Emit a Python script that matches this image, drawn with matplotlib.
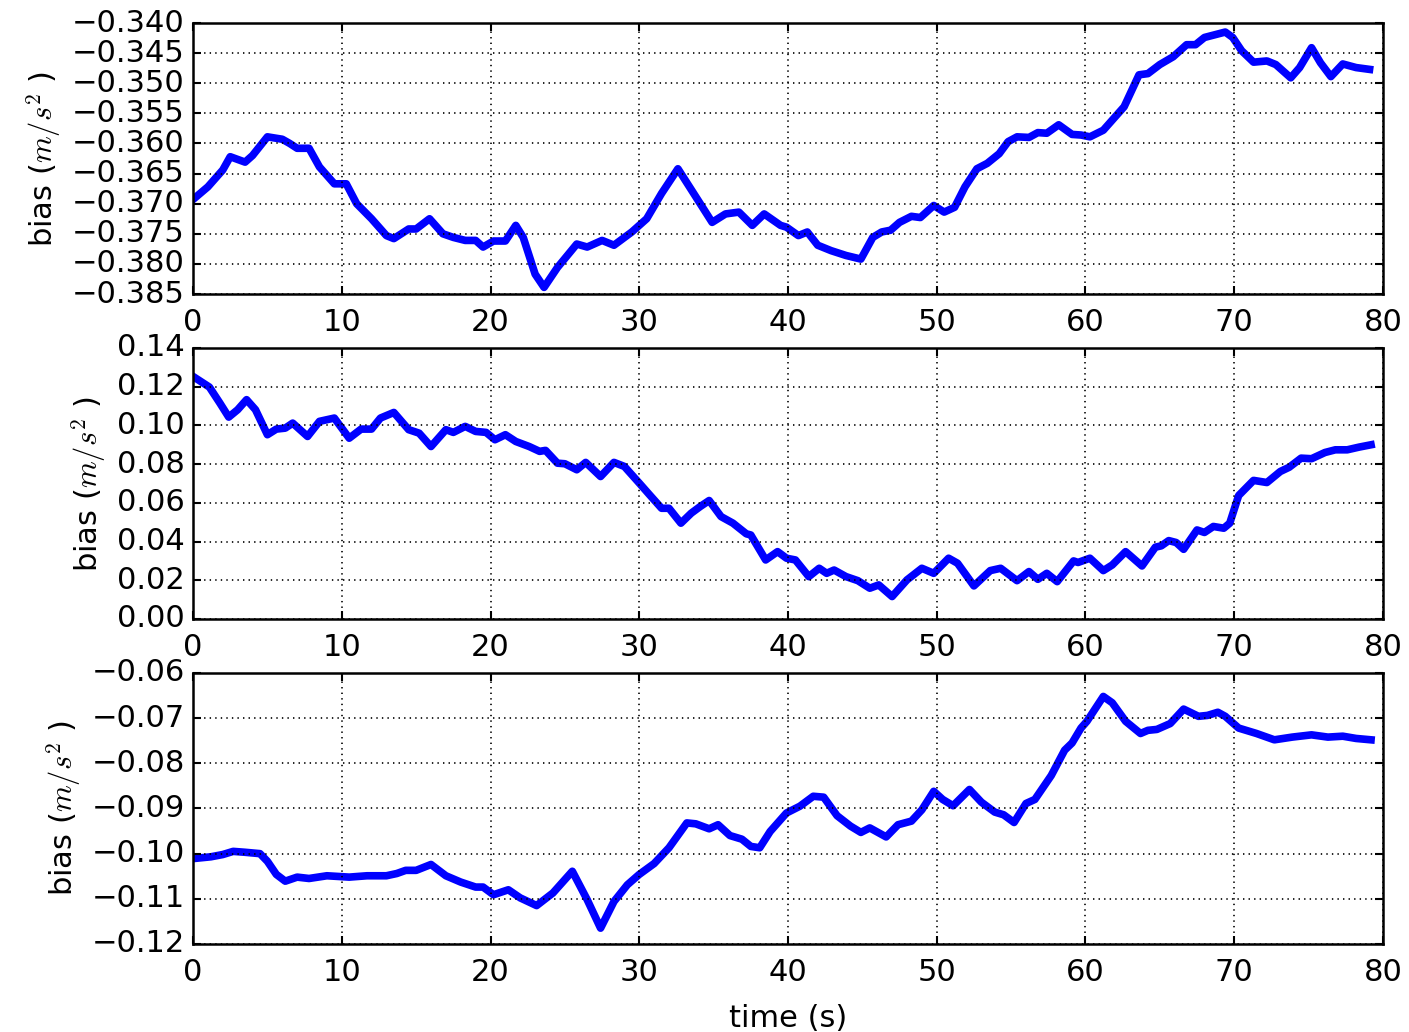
import matplotlib
matplotlib.use('Agg')
import matplotlib.pyplot as plt
from matplotlib.ticker import MultipleLocator

plt.style.use('classic')

# bias estimates
t_x = [0, 1, 2, 2.5, 3.5, 4, 5, 6, 6.5, 7, 7.8, 8.5, 9.5, 10.3, 11, 12, 13, 13.5, 14.5, 15,
       15.9, 16.8, 17.5, 18.3, 19, 19.5, 20.2, 21, 21.7, 22.2, 23, 23.6, 24.5, 25.8, 26.5, 27.5,
       28.3, 29.5, 30.5, 31.5, 32.6, 34.1, 34.9, 35.8, 36.7, 37.6, 38.4, 39.5, 39.9, 40.7, 41.3,
       42.0, 42.9, 43.9, 44.9, 45.7, 46.3, 46.9, 47.5, 48.3, 48.9, 49.8, 50.5, 51.2, 51.9, 52.7,
       53.4, 54.2, 54.8, 55.4, 56.2, 56.8, 57.4, 58.2, 59.1, 59.7, 60.3, 61.2, 62.6, 63.6, 64.2,
       65.0, 65.9, 66.8, 67.4, 68.0, 69.4, 69.9, 70.5, 71.3, 72.2, 72.8, 73.8, 74.4, 75.2, 75.8,
       76.5, 77.3, 78.2, 79.1]
bias_x = [-0.3693, -0.3672, -0.3644, -0.3622, -0.3631, -0.3620, -0.3589, -0.3593, -0.3600,
          -0.3608, -0.3608, -0.3639, -0.3667, -0.3667, -0.3700, -0.3725, -0.3753, -0.3758,
          -0.3742, -0.3742, -0.3725, -0.3750, -0.3756, -0.3761, -0.3761, -0.3772, -0.3762,
          -0.3762, -0.3736, -0.3756, -0.3817, -0.3839, -0.3806, -0.3767, -0.3772, -0.3761,
          -0.3769, -0.3747, -0.3725, -0.3683, -0.3642, -0.3700, -0.3731, -0.3717, -0.3714,
          -0.3736, -0.3717, -0.3736, -0.3739, -0.3753, -0.3747, -0.3769, -0.3778, -0.3786,
          -0.3792, -0.3756, -0.3747, -0.3744, -0.3731, -0.3721, -0.3723, -0.3703, -0.3714,
          -0.3706, -0.3672, -0.3642, -0.3633, -0.3617, -0.3597, -0.3589, -0.3590, -0.3582,
          -0.3583, -0.3569, -0.3585, -0.3586, -0.3589, -0.3578, -0.3539, -0.3486, -0.3484,
          -0.3469, -0.3456, -0.3436, -0.3436, -0.3424, -0.3415, -0.3424, -0.3446, -0.3465,
          -0.3463, -0.3469, -0.3491, -0.3474, -0.3441, -0.3466, -0.3489, -0.3468, -0.3474,
          -0.3477]

t_y = [0, 0.5, 1.1, 1.8, 2.4, 3.0, 3.6, 4.2, 5.0, 5.6, 6.2, 6.7, 7.7, 8.5, 9.5, 10.5, 11.3,
       12, 12.6, 13.5, 14.5, 15.2, 16.0, 17.0, 17.5, 18.3, 19, 19.7, 20.3, 21.0, 21.7, 22.6,
       23.3, 23.7, 24.5, 25.0, 25.8, 26.4, 27.4, 28.3, 29.0, 30.0, 30.7, 31.5, 32.0, 32.8, 33.5,
       34.1, 34.7, 35.5, 36.3, 37.2, 37.5, 38.5, 39.3, 39.9, 40.5, 41.4, 42.1, 42.6, 43.1, 43.9,
       44.7, 45.5, 46.1, 47.0, 48.0, 49.0, 49.8, 50.8, 51.4, 52.5, 53.6, 54.3, 55.4, 56.2, 56.8,
       57.4, 58.1, 59.2, 59.5, 60.3, 61.2, 61.8, 62.7, 63.8, 64.7, 65.1, 65.6, 66.1, 66.6, 67.5,
       68.0, 68.6, 69.3, 69.7, 70.3, 71.3, 72.2, 73.1, 73.7, 74.5, 75.2, 76.1, 76.8, 77.6, 78.4,
       79.2]
bias_y = [0.1253, 0.1228, 0.1198, 0.1116, 0.1043, 0.1081, 0.1133, 0.1081, 0.0952, 0.0981,
          0.0986, 0.1012, 0.0943, 0.1021, 0.1038, 0.0934, 0.0981, 0.0981, 0.1038, 0.1067,
          0.0978, 0.0960, 0.0891, 0.0978, 0.0964, 0.0995, 0.0969, 0.0964, 0.0926, 0.0952,
          0.0917, 0.0891, 0.0866, 0.0871, 0.0805, 0.0802, 0.0771, 0.0809, 0.0736, 0.0809,
          0.0788, 0.0702, 0.0641, 0.0572, 0.0572, 0.0495, 0.0547, 0.0581, 0.0612, 0.0529,
          0.0495, 0.0440, 0.0434, 0.0305, 0.0348, 0.0314, 0.0305, 0.0219, 0.0262, 0.0236,
          0.0253, 0.0219, 0.0198, 0.0159, 0.0176, 0.0116, 0.0202, 0.0262, 0.0236, 0.0314,
          0.0288, 0.0171, 0.0250, 0.0262, 0.0198, 0.0245, 0.0205, 0.0236, 0.0193, 0.0300,
          0.0292, 0.0314, 0.0250, 0.0279, 0.0348, 0.0274, 0.0371, 0.0378, 0.0405, 0.0395,
          0.0360, 0.0460, 0.0447, 0.0478, 0.0469, 0.0495, 0.0638, 0.0716, 0.0705, 0.0762,
          0.0784, 0.0831, 0.0828, 0.0860, 0.0874, 0.0874, 0.0888, 0.0900]

t_z = [0, 1.2, 2, 2.7, 3.5, 4.5, 5.0, 5.6, 6.2, 7.0, 7.8, 9, 10.5, 11.7, 13, 13.7, 14.3, 15,
       16, 17, 18, 19, 19.5, 20.2, 21.2, 22, 23.1, 24.2, 25.5, 26.5, 27.4, 28.3, 29.2, 30, 31,
       32, 33.2, 33.8, 34.7, 35.3, 36.1, 36.9, 37.5, 38.1, 38.8, 39.9, 40.8, 41.7, 42.4, 43.3,
       44.2, 44.9, 45.5, 46.6, 47.4, 48.3, 49.0, 49.8, 50.4, 51.1, 52.2, 53.0, 53.9, 54.5, 55.2,
       56.0, 56.6, 57.7, 58.6, 59.1, 59.7, 60.1, 61.2, 61.8, 62.7, 63.7, 64.2, 64.8, 65.7, 66.6,
       67.6, 68.2, 68.9, 69.4, 70.3, 71.5, 72.7, 73.9, 75.2, 76.3, 77.3, 78.2, 79.2]
bias_z = [-0.1011, -0.1007, -0.1002, -0.0995, -0.0997, -0.1000, -0.1017, -0.1046, -0.1061,
          -0.1052, -0.1055, -0.1049, -0.1052, -0.1049, -0.1049, -0.1044, -0.1037, -0.1037,
          -0.1024, -0.1049, -0.1063, -0.1074, -0.1074, -0.1091, -0.1080, -0.1098, -0.1115,
          -0.1087, -0.1039, -0.1102, -0.1165, -0.1106, -0.1069, -0.1046, -0.1022, -0.0987,
          -0.0932, -0.0934, -0.0945, -0.0936, -0.0960, -0.0968, -0.0984, -0.0987, -0.0951,
          -0.0910, -0.0895, -0.0873, -0.0875, -0.0916, -0.0939, -0.0953, -0.0943, -0.0963,
          -0.0936, -0.0928, -0.0903, -0.0862, -0.0880, -0.0894, -0.0858, -0.0886, -0.0908,
          -0.0914, -0.0931, -0.0889, -0.0880, -0.0827, -0.0771, -0.0755, -0.0722, -0.0707,
          -0.0652, -0.0666, -0.0707, -0.0734, -0.0727, -0.0725, -0.0712, -0.0680, -0.0696,
          -0.0694, -0.0687, -0.0696, -0.0722, -0.0734, -0.0748, -0.0742, -0.0737, -0.0742,
          -0.0740, -0.0745, -0.0748]

# (time, bias, y limits, y tick step)
series = [(t_x, bias_x, (-0.385, -0.340), 0.005),
          (t_y, bias_y, (0.0, 0.14), 0.02),
          (t_z, bias_z, (-0.12, -0.06), 0.01)]

fig = plt.figure(figsize=(14.09, 10.32), dpi=100, facecolor='white')
fsize = 22

tops = [0.9777, 0.6628, 0.3479]
for i, (t, b, lims, step) in enumerate(series):
    ax = fig.add_axes([0.137, tops[i] - 0.2626, 0.8445, 0.2626])
    ax.plot(t, b, color='b', linewidth=5.5, solid_joinstyle='round')
    ax.set_xlim(0, 80)
    ax.set_ylim(*lims)
    ax.yaxis.set_major_locator(MultipleLocator(step))
    ax.xaxis.set_major_locator(MultipleLocator(10))
    ax.grid(True, color='k', linestyle=':', linewidth=1.2)
    ax.tick_params(labelsize=fsize, width=1.5, size=6)
    ax.tick_params(axis='x', pad=10)
    ax.tick_params(axis='y', pad=6)
    for sp in ax.spines.values():
        sp.set_linewidth(1.8)
    ax.set_ylabel(r'bias ($m/s^2$ )', fontsize=fsize, labelpad=6)
    if i == 2:
        ax.set_xlabel('time (s)', fontsize=fsize, labelpad=12)

fig.savefig('out.png', dpi=100, facecolor='white')
